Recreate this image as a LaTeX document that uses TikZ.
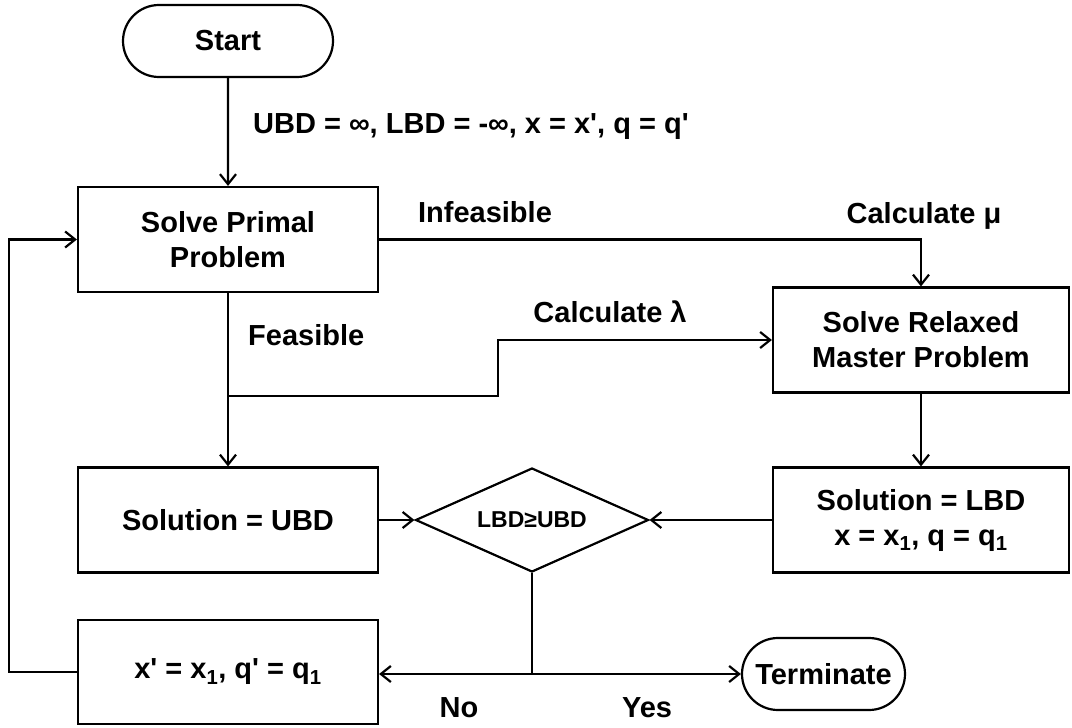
\documentclass[tikz,border=0pt]{standalone}
\usepackage{fontspec}
\setmainfont{Liberation Sans}
\usetikzlibrary{arrows.meta,shapes.geometric,shapes.misc}
\begin{document}
\begin{tikzpicture}[x=1pt,y=-1pt,
  every node/.style={inner sep=0pt},
  txt/.style={font=\fontsize{29}{35}\selectfont\bfseries},
  box/.style={txt, draw, line width=2.2pt, minimum width=300pt, minimum height=105pt, align=center},
  term/.style={txt, draw, line width=2.2pt, rounded rectangle, minimum height=72pt},
  dec/.style={draw, line width=2.2pt, diamond, shape aspect=2.24, minimum width=233pt, minimum height=104pt, font=\fontsize{23}{26}\selectfont\bfseries},
  lbl/.style={txt, anchor=base},
  conn/.style={line width=2.2pt},
  arr/.style={conn, -{Straight Barb[length=10pt,width=16pt]}}
]
\useasboundingbox (0,0) rectangle (1072,728);
% nodes
\node[term, minimum width=210pt] (S) at (228,41) {Start};
\node[box] (P) at (228,239.5) {Solve Primal\\Problem};
\node[box, minimum width=296pt] (R) at (921,340) {Solve Relaxed\\Master Problem};
\node[box] (U) at (228,520) {Solution = UBD};
\node[dec] (D) at (532,520) {LBD≥UBD};
\node[box, minimum width=296pt] (L) at (921,520) {Solution = LBD\\x = x\textsubscript{1}, q = q\textsubscript{1}};
\node[box, minimum height=104pt] (X) at (228,672) {x\textquotesingle{} = x\textsubscript{1}, q\textquotesingle{} = q\textsubscript{1}};
\node[term, minimum width=163pt] (T) at (823.5,674) {Terminate};
% coordinates
\coordinate (j) at (228,396);
\coordinate (k) at (498,340);
\coordinate (b) at (532,674);
% connectors
\draw[arr] (S) -- (P);
\draw[arr] (P) -- (U);
\draw[arr] (j) -| (k) -- (R.west);
\draw[arr] (P.east) -| (R.north);
\draw[arr] (R) -- (L);
\draw[arr] (U.east) -- (D.west);
\draw[arr] (L.west) -- (D.east);
\draw[conn] (D.south) -- (b);
\draw[arr] (b) -- (X.east |- b);
\draw[arr] (b) -- (T.west);
\draw[arr] (X.west) -- ++(-68,0) |- (P.west);
% labels
\node[lbl, anchor=base west] (l1) at (253,133) {UBD = ∞, LBD = -∞, x = x\textquotesingle, q = q\textquotesingle};
\node[lbl] (l2) at (485,222) {Infeasible};
\node[lbl] (l3) at (924,223) {Calculate μ};
\node[lbl] (l4) at (610,322) {Calculate λ};
\node[lbl, anchor=base west] (l5) at (248,345) {Feasible};
\node[lbl] (l6) at (459,717) {No};
\node[lbl] (l7) at (647,717) {Yes};
\end{tikzpicture}
\end{document}
